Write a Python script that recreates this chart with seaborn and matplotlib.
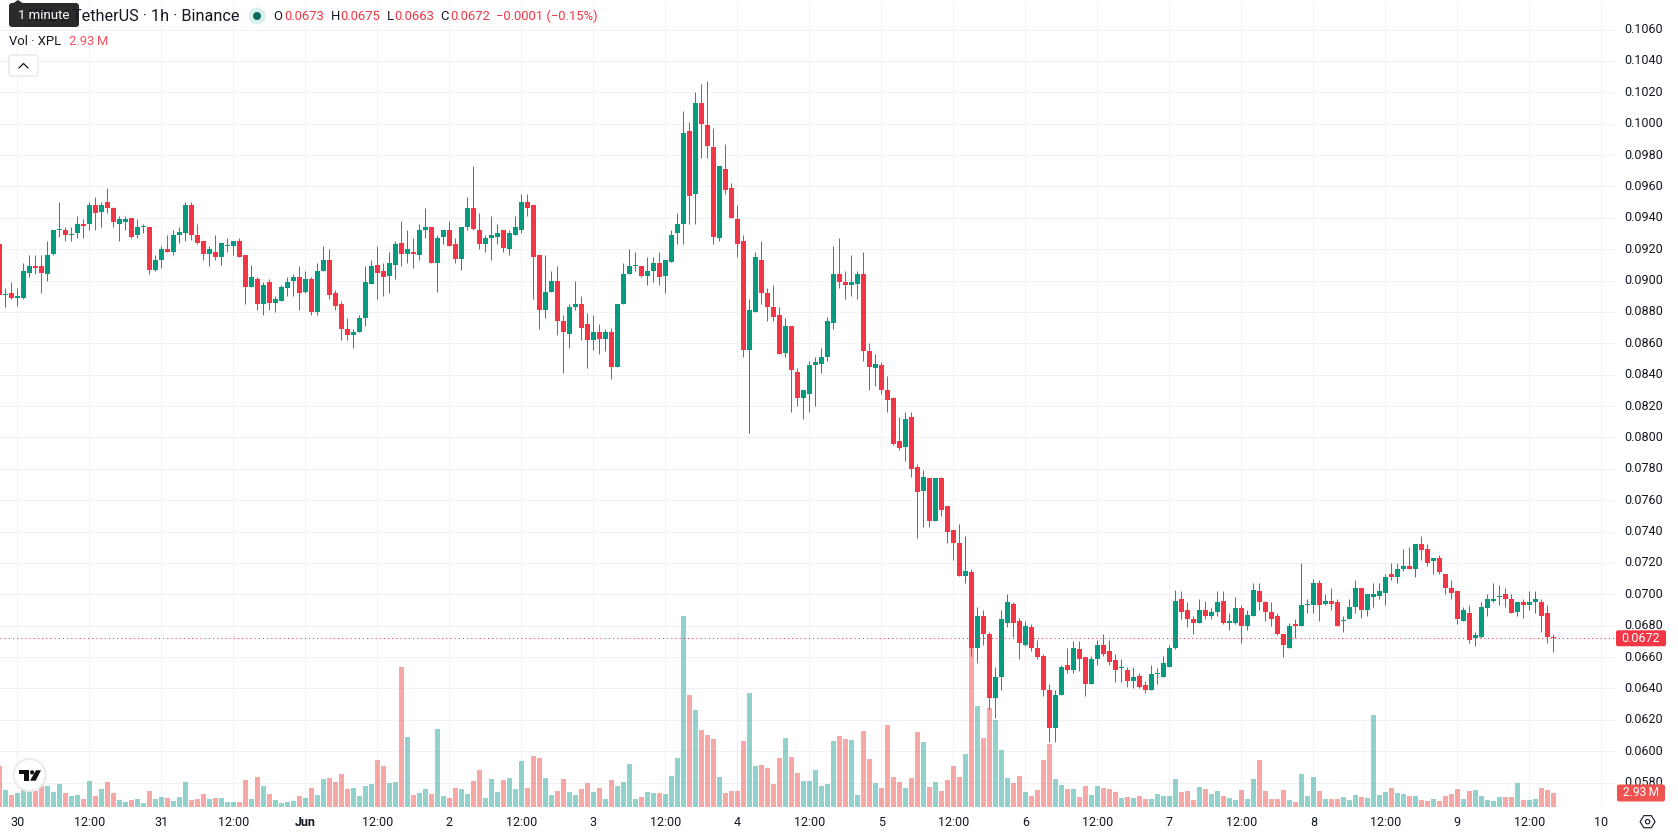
import matplotlib
matplotlib.use("Agg")
import matplotlib.pyplot as plt
from matplotlib.patches import Circle, FancyBboxPatch, Polygon
from matplotlib.transforms import ScaledTranslation
import numpy as np
import pandas as pd
import seaborn as sns

# Hourly XPL/USDT candles, quoted in ticks of 0.0001
opens = [
    923,891,892,889,889,905,909,909,904,917, 932,932,929,930,936,936,948,944,950,946,
    936,937,940,929,934,934,907,913,920,918, 929,930,948,929,925,917,918,915,922,922,
    925,916,896,901,885,899,886,887,895,900, 902,893,901,880,906,913,892,885,869,865,
    867,876,898,910,906,903,910,924,917,918, 916,932,934,911,928,932,923,914,934,946,
    932,923,927,928,932,920,929,932,950,948, 916,881,893,900,874,866,883,885,872,862,
    867,863,867,845,885,904,909,909,903,906, 911,903,912,930,936,995,955,1013,999,985,
    927,971,959,939,925,856,880,913,892,883, 878,854,871,842,825,828,846,847,851,873,
    904,899,897,898,904,855,844,846,830,825, 798,794,813,781,766,774,747,774,756,741,
    733,712,714,666,686,675,634,647,682,694, 683,668,679,666,661,639,615,636,655,652,
    665,660,643,659,668,664,658,653,652,645, 648,642,639,649,647,654,666,697,690,684,
    682,690,686,689,696,682,682,691,680,686, 702,695,689,686,675,666,681,680,693,693,
    707,694,696,695,683,684,692,704,690,698, 699,701,713,711,716,718,716,732,729,721,
    723,713,704,702,683,688,672,673,691,696, 698,700,697,689,695,693,695,695,688,673,
]
closes = [
    891,891,889,890,906,909,908,905,916,932, 932,929,929,936,935,948,943,948,946,937,
    939,939,928,934,934,907,913,920,918,929, 931,948,929,924,917,920,915,924,922,925,
    915,896,902,885,897,886,888,896,899,902, 892,901,880,906,913,891,884,869,865,867,
    876,899,909,905,902,911,923,917,920,917, 932,934,911,927,932,922,914,934,946,933,
    923,927,929,930,921,930,934,950,946,915, 881,893,900,874,867,883,885,870,862,867,
    863,867,845,885,904,909,909,903,906,911, 902,913,929,936,994,954,1013,1000,986,928,
    973,958,940,923,856,881,915,892,883,877, 853,871,843,825,830,846,848,851,874,904,
    899,897,899,904,855,845,847,830,824,796, 793,812,780,765,775,747,774,754,740,733,
    712,715,666,686,675,634,647,684,695,682, 669,680,666,660,639,615,636,654,652,666,
    659,643,659,668,662,657,652,653,645,647, 641,639,649,649,656,666,696,689,684,682,
    690,686,689,695,682,682,691,680,687,703, 695,689,684,675,668,680,680,693,693,707,
    693,696,694,680,683,692,704,690,700,700, 702,711,711,716,718,716,732,728,720,723,
    714,704,701,684,690,671,674,692,697,697, 698,697,688,695,693,695,697,686,673,672,
]
highs = [
    923,895,899,895,911,916,916,916,925,932, 950,934,934,941,939,950,953,950,959,947,
    941,941,940,939,936,934,916,922,929,932, 934,950,950,936,925,922,929,924,927,925,
    927,916,910,902,899,901,890,897,902,904, 909,906,902,911,922,920,894,887,876,869,
    878,909,913,922,911,918,925,938,932,927, 936,946,934,929,932,938,927,934,953,973,
    943,929,941,936,932,932,941,955,955,948, 916,916,906,909,878,885,900,890,879,878,
    872,869,870,885,911,920,918,909,915,915, 918,913,932,943,1008,1001,1020,1025,1027,997,
    973,987,962,948,929,888,918,925,895,897, 883,876,871,844,830,849,851,857,877,922,
    927,906,916,906,918,860,853,848,839,826, 813,816,816,783,779,774,774,775,756,741,
    745,737,716,692,690,676,654,690,700,695, 685,683,681,671,662,643,639,655,666,670,
    670,660,661,671,675,671,662,659,654,654, 650,645,655,653,661,668,703,702,695,686,
    697,696,691,702,702,688,698,693,690,707, 707,696,695,688,675,682,684,720,697,710,
    709,700,704,697,686,697,709,704,700,707, 707,713,720,720,729,730,732,737,732,723,
    725,713,709,702,692,693,676,695,700,707, 706,704,700,695,697,702,702,697,693,675,
]
lows = [
    891,883,888,884,888,902,904,892,900,916, 928,925,925,927,927,932,932,934,943,934,
    925,932,927,927,930,904,906,908,918,916, 924,925,926,923,913,909,913,910,918,916,
    915,885,896,881,878,881,880,887,890,890, 881,892,878,878,906,888,881,862,862,857,
    867,871,898,888,890,892,901,909,911,908, 913,927,911,893,923,922,911,907,932,932,
    920,918,913,923,918,916,929,930,941,888, 869,876,893,865,841,857,881,862,844,856,
    853,855,837,845,885,904,906,902,897,899, 897,892,912,923,923,936,936,978,978,923,
    925,955,940,915,851,803,880,885,874,874, 853,851,816,820,812,816,820,841,849,869,
    895,888,890,888,849,830,833,828,816,795, 792,785,775,736,743,743,747,750,733,722,
    712,707,661,656,668,627,621,639,679,673, 659,667,664,659,635,606,606,636,650,650,
    651,635,643,655,661,655,644,644,641,640, 640,637,639,643,647,654,665,684,679,675,
    682,684,684,686,681,677,681,669,677,686, 690,683,680,674,660,666,672,680,688,688,
    683,693,690,680,676,684,688,685,686,692, 697,693,709,707,715,716,711,722,718,713,
    713,700,697,681,683,669,667,672,686,695, 693,692,688,686,685,690,688,676,669,663,
]
# Traded volume per hour, in millions of XPL
volumes = [
    8.58,3.49,2.44,2.86,3.49,3.14,3.28,4.33,4.33,3.07, 4.74,2.86,2.23,2.44,1.60,5.37,2.23,3.70,5.16,2.86,
    1.40,0.98,1.40,1.60,0.77,3.28,1.60,2.02,1.81,1.19, 2.02,5.16,1.40,1.60,2.65,1.60,1.81,1.81,0.98,0.98,
    0.98,5.58,1.60,6.21,4.33,2.65,1.40,0.77,0.98,1.19, 2.23,1.81,3.91,2.44,5.79,6.00,5.16,6.84,3.70,3.91,
    2.23,4.33,4.74,9.77,8.51,4.95,5.16,29.23,14.58,2.44, 2.86,3.70,2.65,16.26,2.23,1.81,3.91,3.70,2.65,5.37,
    7.67,1.81,5.79,3.07,5.58,6.00,3.70,9.56,3.91,10.60, 10.19,6.07,2.51,3.35,5.86,3.14,2.51,3.77,5.02,3.14,
    3.98,1.67,5.65,4.40,5.23,9.00,1.67,2.09,3.14,2.93, 2.93,2.72,6.49,10.26,39.98,23.44,20.30,16.12,15.07,14.23,
    6.28,2.93,3.35,3.35,13.81,23.86,8.58,8.79,8.16,4.81, 10.26,14.44,10.47,7.12,5.44,5.44,7.74,4.40,4.81,13.81,
    14.86,14.23,14.02,2.51,15.91,10.05,5.02,3.98,17.16,6.28, 5.23,3.98,6.07,15.70,13.60,4.19,5.23,3.35,5.65,8.58,
    6.28,11.09,34.54,21.14,14.44,20.72,18.21,11.93,6.07,5.02, 6.49,3.14,2.30,3.56,9.84,13.19,5.86,4.60,3.77,3.77,
    2.09,4.40,2.51,4.40,3.98,3.77,3.14,1.88,2.09,1.88, 2.30,1.67,1.67,2.72,2.30,2.30,5.86,3.14,3.35,1.47,
    4.19,3.77,2.72,3.35,2.30,1.88,1.47,3.56,1.67,5.86, 9.84,3.35,1.67,1.67,3.56,1.47,1.05,6.91,2.30,6.28,
    3.35,1.67,1.67,1.67,2.09,1.47,2.51,2.09,1.88,19.26, 2.51,3.14,3.98,2.93,2.72,2.30,2.30,1.47,1.26,1.67,
    1.26,2.30,2.72,3.77,1.67,3.35,3.56,2.30,1.47,1.26, 2.09,2.09,2.09,5.02,1.47,1.47,1.67,3.98,3.56,2.93,
]
# One label every twelve bars, starting at bar 3 (30 May, 00:00)
time_labels = ["30","12:00","31","12:00","Jun","12:00","2","12:00","3","12:00","4","12:00",
               "5","12:00","6","12:00","7","12:00","8","12:00","9","12:00","10"]
price_ticks = [0.1060,0.1040,0.1020,0.1000,0.0980,0.0960,0.0940,0.0920,0.0900,0.0880,0.0860,0.0840,
               0.0820,0.0800,0.0780,0.0760,0.0740,0.0720,0.0700,0.0680,0.0660,0.0640,0.0620,0.0600,0.0580]

UP, DOWN = "#089981", "#F23645"
VOL_UP, VOL_DOWN = "#26a69a", "#ef5350"
GRID = "#f0f1f4"
INK = "#131722"
W, H = 1678, 835
PLOT_W, PLOT_H = 1615, 807
PX_PER_2TICKS = 31.38      # pixels per 0.0020 of price

sns.set_theme(style="white")
plt.rcParams["font.family"] = ["Roboto", "DejaVu Sans"]

o, c, hi, lo = [np.array(a) / 1e4 for a in (opens, closes, highs, lows)]
bars = np.arange(len(o))
rising = c >= o
df = pd.DataFrame({"bar": bars, "volume": volumes,
                   "direction": np.where(rising, "up", "down")})

fig = plt.figure(figsize=(W / 100, H / 100), dpi=100, facecolor="white")
rect = [0, (H - PLOT_H) / H, PLOT_W / W, PLOT_H / H]
ax = fig.add_axes(rect, zorder=1)
ax_vol = fig.add_axes(rect, zorder=2, facecolor="none")
ax_top = fig.add_axes(rect, zorder=3, facecolor="none")

xlim = (0.67 / 6, (PLOT_W + 0.67) / 6)
ylim = (0.1060 - (PLOT_H - 29.5) * 0.002 / PX_PER_2TICKS, 0.1060 + 29.5 * 0.002 / PX_PER_2TICKS)

# Volume histogram along the bottom of the pane
sns.barplot(data=df, x="bar", y="volume", hue="direction", native_scale=True, dodge=False,
            palette={"up": VOL_UP, "down": VOL_DOWN}, hue_order=["up", "down"], width=0.83,
            saturation=1, alpha=0.5, linewidth=0, errorbar=None, legend=False, ax=ax_vol)
ax_vol.set_xlim(xlim)
ax_vol.set_ylim(0, PLOT_H * 2.93 / 14)
ax_vol.set_axis_off()

# Candles: one-pixel wicks under five-pixel bodies, dojis keep a one-pixel body
colors = np.where(rising, UP, DOWN)
ax_top.vlines(bars, lo, hi, colors=colors, linewidth=0.72)
body_low = np.minimum(o, c)
body_h = np.maximum(np.abs(c - o), 0.00007)
ax_top.bar(bars, body_h, bottom=body_low, width=0.83, color=colors, linewidth=0)
ax_top.axhline(c[-1], color=DOWN, linewidth=0.75, linestyle=(0, (1, 3)))
ax_top.set_xlim(xlim)
ax_top.set_ylim(ylim)
ax_top.set_axis_off()

# Grid and both axes
ax.set_xlim(xlim)
ax.set_ylim(ylim)
ax.set_xticks(3 + 12 * np.arange(len(time_labels)), time_labels)
ax.set_yticks(price_ticks, [f"{p:.4f}" for p in price_ticks])
ax.yaxis.tick_right()
ax.grid(True, color=GRID, linewidth=0.72)
ax.set_axisbelow(True)
for side in ax.spines.values():
    side.set_visible(False)
ax.tick_params(axis="both", length=0, labelsize=9, labelcolor=INK)
ax.tick_params(axis="y", pad=6.5)
ax.tick_params(axis="x", pad=6.5)
ax.get_xticklabels()[4].set_fontweight("bold")
# Price labels sit slightly above the centre of their gridline
lift = ScaledTranslation(0, 1.5 / 100, fig.dpi_scale_trans)
for tick_label in ax.get_yticklabels():
    tick_label.set_transform(tick_label.get_transform() + lift)

# Pixel-addressed layer for the legend, badges and icons
ui = fig.add_axes([0, 0, 1, 1], zorder=10, facecolor="none")
ui.set_xlim(0, W)
ui.set_ylim(H, 0)
ui.set_axis_off()


def label(x, y, s, color=INK, size=9.36, ha="left", **kw):
    ui.text(x, y, s, color=color, fontsize=size, ha=ha, va="center", **kw)


def badge(x0, x1, yc, h, color, s, size=9):
    ui.add_patch(FancyBboxPatch((x0 + 1, yc - h / 2 + 1), x1 - x0 - 2, h - 2,
                                boxstyle="round,pad=1,rounding_size=2", fc=color, ec="none"))
    label((x0 + x1) / 2, yc, s, color="white", size=size, ha="center")


fig.canvas.draw()
price_y = H - ax_top.transData.transform((0, c[-1]))[1]
vol_y = H - ax_vol.transData.transform((0, volumes[-1]))[1]
badge(1616, 1666, price_y, 16, DOWN, f"{c[-1]:.4f}")
badge(1617, 1665, vol_y, 17, VOL_DOWN, f"{volumes[-1]:.2f}\u2009M", size=8.6)

# Legend header
label(239, 16, "XPL / TetherUS · 1h · Binance", size=11.7, ha="right")
ui.add_patch(Circle((257, 16), 8.5, fc="#d9f0ea", ec="none"))
ui.add_patch(Circle((257, 16), 4, fc="#0a6b5c", ec="none"))
for x_name, name, x_val, val in [(273.5, "O", 284.6, opens[-1]), (330.4, "H", 340.7, highs[-1]),
                                 (387, "L", 394.5, lows[-1]), (440, "C", 449.8, closes[-1])]:
    label(x_name, 16, name)
    label(x_val, 16, f"{val / 1e4:.4f}", color=DOWN)
change = closes[-1] - opens[-1]
label(495.7, 16, f"\u2212{abs(change) / 1e4:.4f} (\u2212{abs(change) / opens[-1] * 100:.2f}%)", color=DOWN)
label(9, 41.5, "Vol · XPL")
label(68.8, 41.5, f"{volumes[-1]:.2f}\u2009M", color="#f7525f")

# Collapse button
ui.add_patch(FancyBboxPatch((10, 56), 27, 19, boxstyle="round,pad=1,rounding_size=3",
                            fc="white", ec="#e0e3eb", lw=0.8))
ui.plot([19, 23.5, 28], [68, 63.5, 68], color=INK, lw=0.9)

# Tooltip resting over the start of the header
ui.add_patch(Polygon([(12, 4), (18, 0), (24, 4)], fc="#2b2b2b", ec="none"))
ui.add_patch(FancyBboxPatch((11, 5), 66, 20, boxstyle="round,pad=2,rounding_size=3",
                            fc="#2b2b2b", ec="none"))
label(44, 15.5, "1 minute", color="white", size=9.5, ha="center")

# Round logo badge
ui.add_patch(Circle((29.6, 775), 16, fc="white", ec="#ebebeb", lw=1.5))
ui.add_patch(Polygon([(18.6, 770.3), (28.6, 770.3), (28.6, 780.7), (23.6, 780.7), (23.6, 774), (18.6, 774)],
                     fc="#111111", ec="none"))
ui.add_patch(Circle((32.1, 772.4), 2.1, fc="#111111", ec="none"))
ui.add_patch(Polygon([(36, 770.3), (41, 770.3), (35.7, 780.7), (30, 780.7)], fc="#111111", ec="none"))

# Settings hexagon in the corner
angles = np.deg2rad(np.arange(0, 360, 60))
ui.add_patch(Polygon(np.c_[1647.6 + 7.5 * np.cos(angles), 821.7 + 7 * np.sin(angles)],
                     fc="none", ec=INK, lw=0.8))
ui.add_patch(Circle((1647.6, 821.7), 2.2, fc="none", ec=INK, lw=0.8))

fig.savefig("out.png", dpi=100, facecolor="white")
